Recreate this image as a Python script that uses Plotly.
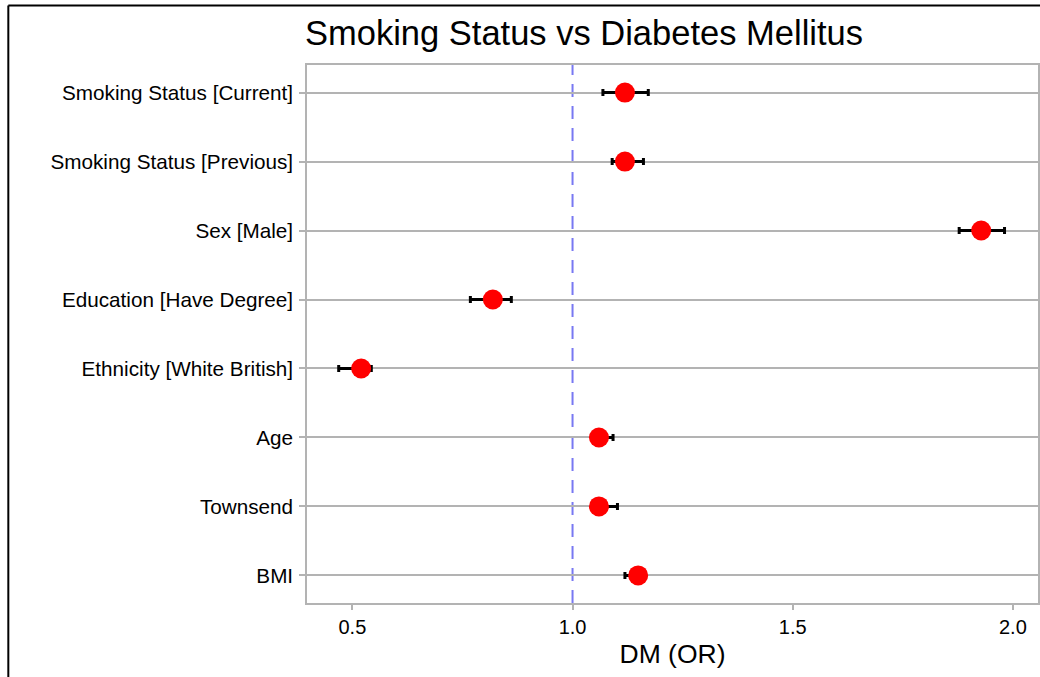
import plotly.graph_objects as go

# Odds ratios with 95% confidence intervals for diabetes mellitus
terms = [
    "Smoking Status [Current]",
    "Smoking Status [Previous]",
    "Sex [Male]",
    "Education [Have Degree]",
    "Ethnicity [White British]",
    "Age",
    "Townsend",
    "BMI",
]
odds_ratio = [1.119, 1.119, 1.928, 0.819, 0.520, 1.060, 1.060, 1.149]
ci_low = [1.069, 1.090, 1.878, 0.768, 0.469, 1.045, 1.045, 1.119]
ci_high = [1.172, 1.161, 1.981, 0.861, 0.543, 1.092, 1.102, 1.160]

x_ticks = [0.5, 1.0, 1.5, 2.0]
x_tick_text = ["0.5", "1.0", "1.5", "2.0"]

err_plus = [h - o for h, o in zip(ci_high, odds_ratio)]
err_minus = [o - l for o, l in zip(odds_ratio, ci_low)]

FONT = "Liberation Sans, Arial, sans-serif"
GRID = "#b3b3b3"

W, H = 1040, 677
ML, MR, MT, MB = 307, 0, 65, 74
PW, PH = W - ML - MR, H - MT - MB


def px_x(px):
    return (px - ML) / PW


def px_y(py):
    return (H - MB - py) / PH


fig = go.Figure()

fig.add_trace(go.Scatter(
    x=odds_ratio,
    y=terms,
    mode="markers",
    marker=dict(color="#ff0000", size=20, line=dict(width=0)),
    error_x=dict(
        type="data",
        symmetric=False,
        array=err_plus,
        arrayminus=err_minus,
        color="black",
        thickness=3,
        width=3.5,
    ),
    showlegend=False,
    hoverinfo="x+y",
))

# reference line at OR = 1
fig.add_shape(
    type="line", xref="x", yref="paper",
    x0=1.0, x1=1.0, y0=0, y1=1,
    line=dict(color="#7878f2", width=2, dash="13px,9px"),
    layer="below",
)

# outer frame (left and top edges)
fig.add_shape(
    type="line", xref="paper", yref="paper",
    x0=px_x(7.5), x1=px_x(1045), y0=px_y(5.5), y1=px_y(5.5),
    line=dict(color="black", width=2),
)
fig.add_shape(
    type="line", xref="paper", yref="paper",
    x0=px_x(7.5), x1=px_x(7.5), y0=px_y(5.5), y1=px_y(690),
    line=dict(color="black", width=2),
)

fig.update_layout(
    width=W,
    height=H,
    margin=dict(l=ML, r=MR, t=MT, b=MB),
    paper_bgcolor="white",
    plot_bgcolor="white",
    font=dict(family=FONT, color="black"),
    title=dict(
        text="Smoking Status vs Diabetes Mellitus",
        x=(ML - 2) / W, xref="container", xanchor="left",
        y=1 - 33 / H, yref="container", yanchor="middle",
        font=dict(size=34.5, family=FONT, color="black"),
    ),
    xaxis=dict(
        range=[0.397, 2.057],
        tickvals=x_ticks,
        ticktext=x_tick_text,
        showgrid=False,
        zeroline=False,
        showline=True,
        mirror=True,
        linecolor=GRID,
        linewidth=1.5,
        ticks="outside",
        ticklen=5,
        tickwidth=2,
        tickcolor=GRID,
        tickfont=dict(size=20, family=FONT, color="black"),
        title=dict(text="DM (OR)", font=dict(size=26.5, family=FONT, color="black"), standoff=8),
    ),
    yaxis=dict(
        type="category",
        categoryorder="array",
        categoryarray=terms[::-1],
        range=[-0.4, 7.4],
        showgrid=True,
        gridcolor=GRID,
        gridwidth=2,
        zeroline=False,
        showline=True,
        mirror=True,
        linecolor=GRID,
        linewidth=1.5,
        ticks="outside",
        ticklen=6,
        tickwidth=2,
        tickcolor=GRID,
        ticklabelstandoff=2,
        tickfont=dict(size=20.7, family=FONT, color="black"),
    ),
)

fig.write_html("out.html")
